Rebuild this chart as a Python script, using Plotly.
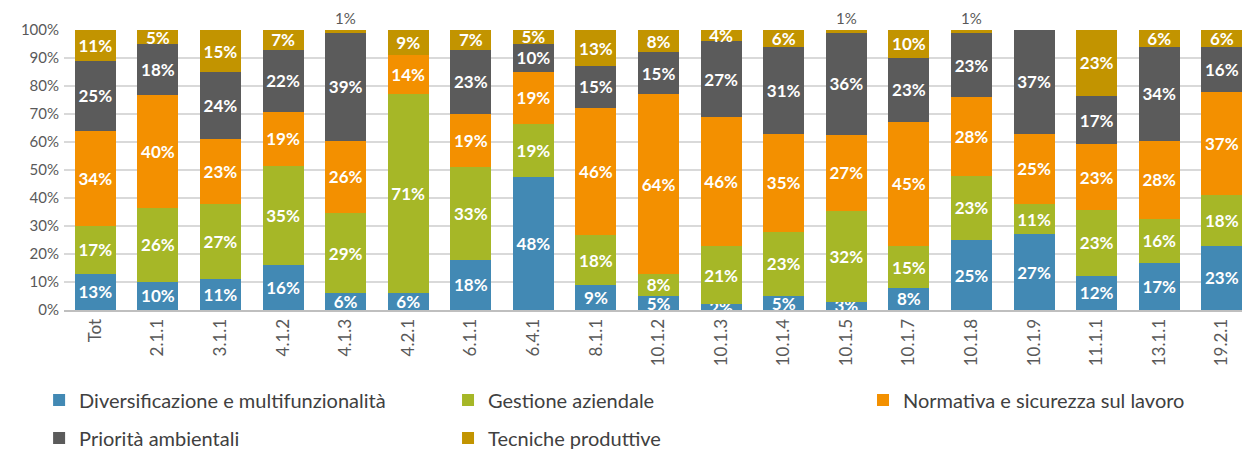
import plotly.graph_objects as go

categories = ["Tot", "2.1.1", "3.1.1", "4.1.2", "4.1.3", "4.2.1", "6.1.1", "6.4.1", "8.1.1",
              "10.1.2", "10.1.3", "10.1.4", "10.1.5", "10.1.7", "10.1.8", "10.1.9",
              "11.1.1", "13.1.1", "19.2.1"]

diversificazione = [13, 10, 11, 16, 6, 6, 18, 48, 9, 5, 2, 5, 3, 8, 25, 27, 12, 17, 23]
gestione = [17, 26, 27, 35, 29, 71, 33, 19, 18, 8, 21, 23, 32, 15, 23, 11, 23, 16, 18]
normativa = [34, 40, 23, 19, 26, 14, 19, 19, 46, 64, 46, 35, 27, 45, 28, 25, 23, 28, 37]
priorita = [25, 18, 24, 22, 39, 0, 23, 10, 15, 15, 27, 31, 36, 23, 23, 37, 17, 34, 16]
tecniche = [11, 5, 15, 7, 1, 9, 7, 5, 13, 8, 4, 6, 1, 10, 1, 0, 23, 6, 6]

series_names = ["Diversificazione e multifunzionalità", "Gestione aziendale",
                "Normativa e sicurezza sul lavoro", "Priorità ambientali", "Tecniche produttive"]
series_values = [diversificazione, gestione, normativa, priorita, tecniche]
colors = ["#4289B4", "#A6B727", "#F39000", "#5B5B5B", "#C29400"]
legend_ids = ["legend", "legend2", "legend3", "legend4", "legend5"]

FONT = "Lato"
fig = go.Figure()
for name, vals, col, lg in zip(series_names, series_values, colors, legend_ids):
    # tiny (1%) top segments get their label above the bar instead
    texts = [f"{v}%" if v > 1 else "" for v in vals]
    fig.add_trace(go.Bar(
        x=categories, y=vals, name=name, marker=dict(color=col, line=dict(width=0)),
        text=texts, textposition="inside", insidetextanchor="middle", textangle=0,
        constraintext="none",
        insidetextfont=dict(color="white", size=17, family=FONT, weight="bold"),
        cliponaxis=False, legend=lg, showlegend=True, hoverinfo="skip",
    ))

# labels for 1% segments, shown above the bar top
for c, v in zip(categories, tecniche):
    if v == 1:
        fig.add_annotation(x=c, y=100, text=f"{v}%", showarrow=False, yanchor="bottom",
                           yshift=1, font=dict(size=15, color="#595959", family=FONT))

LEG_FONT = dict(size=20, color="#404040", family=FONT)
# legend placement (paper coords): columns x, rows y
col_x = [-0.021, 0.3238, 0.6737]
row_y = [-0.321, -0.457]
leg_pos = [(col_x[0], row_y[0]), (col_x[1], row_y[0]), (col_x[2], row_y[0]),
           (col_x[0], row_y[1]), (col_x[1], row_y[1])]
legend_layout = {}
for lg, (lx, ly) in zip(legend_ids, leg_pos):
    legend_layout[lg] = dict(orientation="h", x=lx, y=ly, xanchor="left", yanchor="middle",
                             font=LEG_FONT, itemclick=False, bgcolor="rgba(0,0,0,0)",
                             visible=True)

fig.update_layout(
    barmode="stack", barnorm="percent", bargap=0.345,
    width=1242, height=442, showlegend=True,
    margin=dict(l=56, r=0, t=22, b=140, autoexpand=False),
    plot_bgcolor="white", paper_bgcolor="white",
    font=dict(family=FONT, color="#595959", size=15),
    uniformtext=dict(minsize=17, mode="show"),
    xaxis=dict(type="category", range=[-0.5, 18.45], tickangle=-90,
               showline=True, linecolor="#BFBFBF", linewidth=2,
               tickfont=dict(size=17, color="#595959", family=FONT), ticks=""),
    yaxis=dict(range=[0, 100.01], tickvals=list(range(0, 101, 10)),
               ticktext=[f"{t}%" for t in range(0, 101, 10)], showgrid=True,
               gridcolor="#D9D9D9", gridwidth=2, zeroline=False, ticklabelstandoff=4,
               tickfont=dict(size=15, color="#595959", family=FONT)),
    **legend_layout,
)

fig.write_html("out.html")
